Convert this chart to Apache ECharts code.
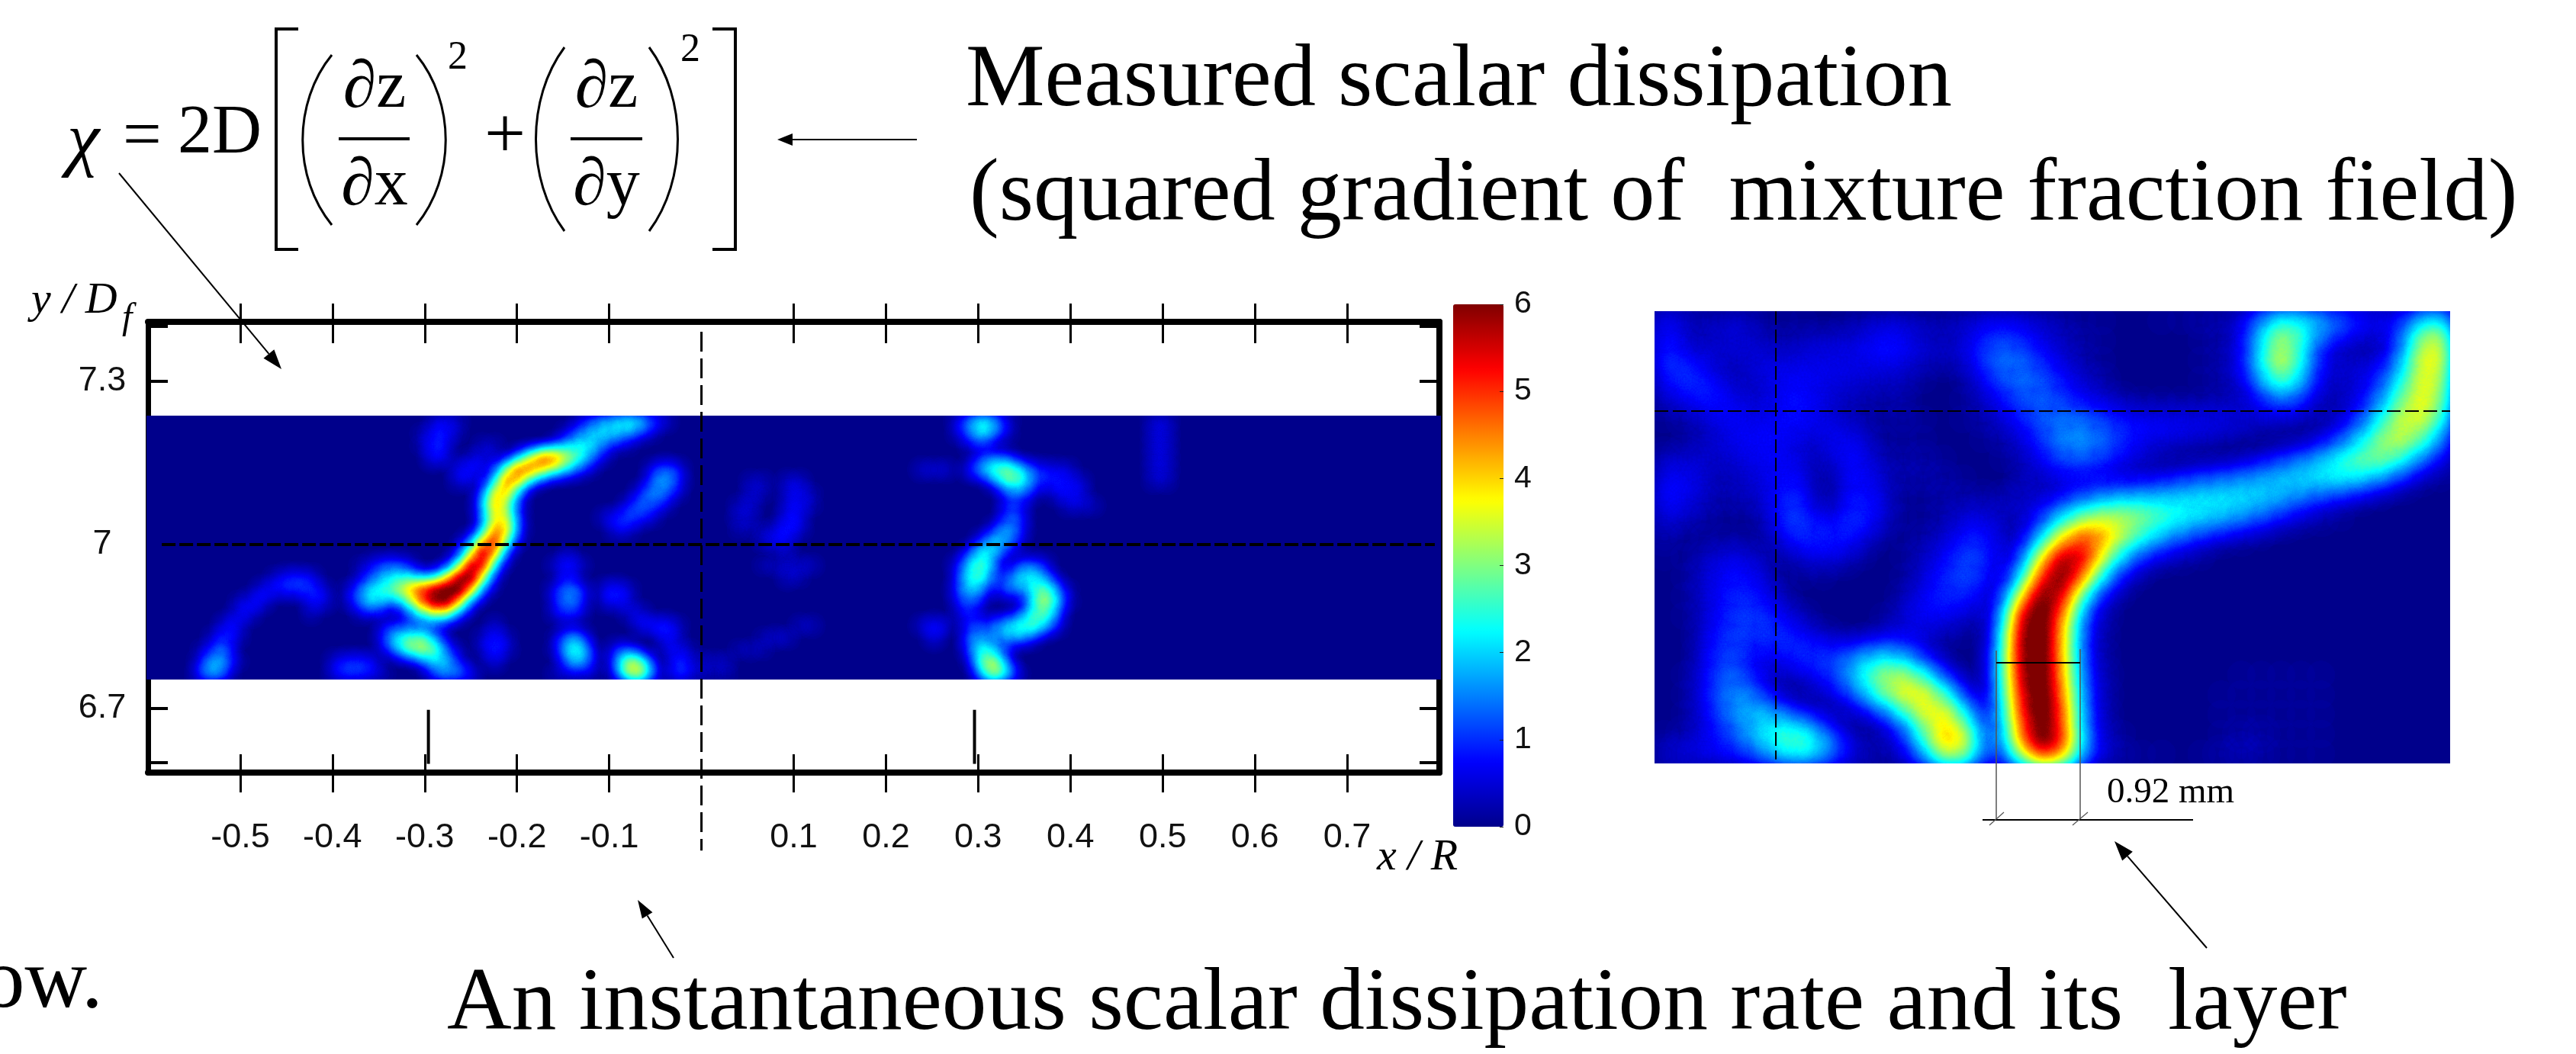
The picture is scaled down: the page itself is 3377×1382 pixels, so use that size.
<!DOCTYPE html>
<html><head><meta charset="utf-8">
<style>html,body{margin:0;background:#fff}#c{width:3377px;height:1382px}</style>
<script src="https://cdn.jsdelivr.net/npm/echarts@6/dist/echarts.min.js"></script>
</head><body><div id="c"></div>
<script>
// --- tick labels / colour scale ---
const xTickValues = [-0.5,-0.4,-0.3,-0.2,-0.1,0.1,0.2,0.3,0.4,0.5,0.6,0.7];
const yLabelValues = [6.7,7,7.3];
const yTickValues = [6.6,6.7,6.8,6.9,7,7.1,7.2,7.3,7.4];
const colorbarMax = 6;
const xRange = [-0.6,0.8], yRange = [6.582,7.408];
const leftFieldY = [6.753,7.236];
const leftCols = 106, leftRows = 22, rightCols = 40, rightRows = 23;
const jetColors = [[0,0,139],[0,0,255],[0,128,255],[0,255,255],[128,255,128],[255,255,0],[255,128,0],[255,0,0],[128,0,0]];
const HEAT_GAIN = 1.0, HEAT_GAMMA = 0.85;

// --- left field: runs of chi: [row, first column, values...] ---
const leftRuns = [
[0,23,.4,.7,.4],[0,35,.5,1,1.5,1.8,2.4,2,1,.5],[0,66,.6,1.5,2.4,1.5,.5],[0,82,.5,.5],
[1,22,.3,.8,.8,.3],[1,34,.6,1.2,1.7,1.9,1.7,1.3,.7,.3],[1,66,.5,1.2,2.2,1.2,.4],[1,82,.5,.5],
[2,22,.3,.9,.6],[2,27,.4,.4],[2,33,.8,1.5,2.1,1.8,1,.5,.3],[2,67,.5,.5],[2,82,.5,.5],
[3,23,.9,.5,0,.4,.6,.4,0,1.2,3,5.2,4.6,3.2,2.2,1.2,.4],[3,68,.8,1,.7],[3,82,.5,.5],
[4,25,.7,.9,.6,.4,3,4.9,4.4,3,2.2,1.4,.8,.3],[4,41,.6,1.4,.7],[4,63,.5,.5,.5],[4,67,.8,2,2.6,3,2,1,.7,.6,.5],[4,82,.5,.5],
[5,25,.5,.5,.2,1.6,4.5,3.2,1,.3],[5,41,1.2,1.6,.9],[5,49,.4,.4,0,.5,.5],[5,69,1,2.4,2.6,1.2,.8,.8,.7,.5],[5,82,.4,.4],
[6,27,.8,3.6,3.6,.9],[6,40,.9,1.4,1.2,.4],[6,49,.5,.3,0,.5,.7,.3],[6,70,.8,1,.6,0,.6,.7,.6],
[7,27,1.2,4.2,2.2,.6],[7,39,.7,1.2,1,.5],[7,48,.4,.5,0,0,.5,.7,.3],[7,70,.8,.8,0,0,0,.5,.5,.4],
[8,27,.8,3.2,3.2,.6],[8,37,.5,.9,1.1,.9,.4],[8,48,.5,.4,0,0,.8,.6],[8,70,1.1,.9],
[9,27,1,4,3.8,.7],[9,38,.7,.5],[9,48,.3,.3,.3,.5,.9,.5],[9,69,.8,1.6,.9],
[10,25,.2,1,3.4,5.4,2,.3],[10,50,.4,.8,.6],[10,68,1,2,1.6,.5],
[11,25,.6,2.4,5.8,3.4,.6],[11,34,.4],[11,52,.3],[11,67,1,2.4,1.4,.4],
[12,17,.3,.7,1.1,1.2,.6],[12,24,.4,1.6,5.4,5,1.4,.2],[12,33,.5,1,.5],[12,50,.3,.4,.4,.5,.4],[12,66,.8,2,2.4,.9,0,1,1.2,.7],
[13,10,.4,.8,.9,.6],[13,17,.4,1,1.5,1.8,2,1.2,1.2,3,5.2,6,2.6,.5],[13,34,.6],[13,52,.5,.3],[13,66,.6,2.2,2.4,.6,1,2,2.2,1.4,.3],
[14,9,.7,.8,.9,.9,1,.5],[14,16,.4,1.2,2,2.2,3,3.8,4.8,5.4,5.6,6,3.6,1,.2],[14,33,.7,1.5,1,0,.6,1,.4],[14,66,1,2,1,.3,1.5,1,1.6,2.8,1.4,.3],
[15,7,.3,.8,.7,0,0,0,.7,.7],[15,16,.4,1.3,2.2,1.4,1,2.2,4,5.4,5.8,3.6,.9,.2],[15,33,.6,1.5,.9,0,.5,.8,.5],[15,66,.6,1.2,.5,0,0,0,1.6,3.4,1.8,.4],
[16,7,.7,.6,0,0,0,0,.4],[16,17,.4,.5,.3,0,1,2,2.6,2.6,1,.2],[16,33,.5,1,.5,0,0,0,.5,.6],[16,66,.4,.9,0,0,0,.7,1.8,2.4,1.2],
[17,6,.8,.6],[17,19,.5,.7,.5,.6,.5,.3,0,0,0,.5],[17,40,.7,.8,1,.4],[17,53,.4,.4],[17,63,.5,.9,.5,0,.9,.8,1.4,2,2.4,2.8,2,.6],
[18,5,.5,.9,.4],[18,19,1,2.2,2.4,2.6,1.4,.3,0,0,.4,.9,.4],[18,33,.3,1.5,1.2],[18,42,.8,.4],[18,50,.3,.5,.4],[18,64,.7,0,0,1.4,1.3,.8,1.6,1.4,.7],
[19,4,.3,.9,1.2],[19,19,.4,1.4,2.8,3.2,2.8,1.2,.3,0,.4,1,.5],[19,33,.4,2,2.4,.5,0,.8,.8],[19,42,.4,.7,.3],[19,48,.3,.4,.3],[19,67,1,2.4,1.4,.3],
[20,4,.6,1.8,1.3,.3],[20,15,.6,.9,.9,.7],[20,22,.6,1.8,1.6,.7,0,0,.6],[20,34,1.2,2,.6,0,1.2,3.4,2.6,.4],[20,43,1,.5,.4,.4,.4],[20,67,.4,2.8,3,.8],
[21,4,1,2,.7],[21,15,.7,1,.9,.7,.3],[21,23,.8,1.6,1.4,.8],[21,33,.4,.4,.4,.4],[21,38,.6,3.4,3.6,1],[21,43,1.1,.6,.3,.3,.3],[21,68,1.8,3.6,2,.3]
];

// --- right field: rows of chi, top to bottom (missing tail = 0) ---
const rightRows_ = [
[.8,.5,.3,.4,.5,.2,.2,.2,.1,.2,.3,.4,.4,.3,.3,.4,.5,.6,.5,.4,.3,.2,.2,.1,.1,.2,.2,.3,.3,.5,1.4,2.4,2.2,1.9,1.4,.9,.7,.8,1.6,2.4],
[.9,.3,.4,.6,.5,.4,.3,.4,.5,.5,.6,.9,.8,.5,.4,.5,.9,1.1,.9,.6,.4,.3,.2,.1,.1,.1,.1,.2,.3,.5,1.6,3.2,2,.8,.5,.3,.3,.8,2.8,3.8],
[1,.9,.5,.4,.5,.6,.5,.6,.6,.6,.6,.7,.6,.4,.4,.4,1,1.3,1.1,.8,.5,.3,.2,.1,.1,.1,.1,.2,.3,.6,1.8,3.8,1.8,.6,.4,.4,.5,1.2,3.2,3.8],
[.7,1,.9,.4,.3,.6,.7,.7,.6,.6,.5,.4,.4,.2,.1,.2,.6,1.1,1.3,1.1,.8,.5,.3,.1,.1,.1,.1,.2,.3,.5,1.4,2.8,1.6,.5,.5,.6,.9,1.8,3.2,3.2],
[.4,.6,.9,.9,.5,.4,.7,.8,.5,.4,.3,.3,.3,.1,.1,.2,.4,.7,1,1.1,.9,.6,.5,.3,.2,.2,.2,.2,.3,.3,.6,1.2,.9,.3,.3,.5,1.1,2.4,3.4,3],
[.2,.3,.4,.6,.7,.6,.8,.8,.6,.4,.3,.2,.3,.2,.1,.2,.3,.5,.9,1.1,1.3,1.2,1,.8,.7,.7,.7,.7,.7,.6,.5,.4,.3,.3,.5,1,1.9,3.2,3.2,2.4],
[.1,.2,.4,.6,.7,.7,.7,.4,.6,.8,.5,.2,.2,.2,.1,.1,.2,.3,.5,.9,1.4,1.5,1.2,.9,.7,.6,.5,.4,.3,.2,.1,.1,.1,.3,.8,1.5,2.6,3.3,2.5,1.3],
[.4,.5,.5,.4,.6,.7,.7,.5,.3,.7,.7,.3,.3,.3,.2,.1,.1,.2,.4,.7,1.1,1.2,1,.7,.4,.2,.1,.1,.1,.2,.4,.7,1.1,1.6,2.2,2.8,3,2.2,1.2,.6],
[.7,.7,.5,.3,.5,.5,.8,.6,.1,.6,.8,.4,.3,.3,.3,.2,.1,.1,.3,.4,.5,.5,.4,.3,.4,.5,.7,.9,1.1,1.3,1.6,1.9,2,2.1,2.2,1.8,1.2,.7,.3,.2],
[.8,.7,.4,.3,.4,.5,.9,.8,.1,.5,.9,.5,.2,.2,.3,.3,.3,.3,.6,.3,.6,.9,1.3,1.5,1.6,1.7,1.9,2,2,2,1.8,1.5,1.2,.8,.5,.3,.2,.1,.1,.1],
[.6,.4,.3,.2,.2,.3,1,1,.4,.9,1,.5,.2,.2,.3,.5,.6,.4,.3,.9,1.8,2.4,3,3.1,2.9,2.5,2.1,1.9,1.7,1.4,1,.7,.4,.3,.2],
[.3,.2,.2,.2,.2,.2,.7,1,.9,.9,.6,.2,.2,.3,.4,.8,.9,.4,.3,1.4,3,4.8,4.2,3,2,1.5,1,.7,.4,.3,.2],
[.2,.2,.4,.6,.6,.3,.2,.5,.6,.5,.2,.1,.2,.4,.7,1,1,.4,.8,3.5,5.6,5.2,3,1.4,.8,.4,.3,.2],
[.1,.2,.5,.7,.8,.5,.2,.2,.2,.1,.1,.1,.2,.5,.8,1.1,.9,.3,1.2,4.6,6,4.2,1.6,.6,.2],
[.1,.2,.5,.8,.9,.7,.3,.1,.1,.1,.1,.1,.3,.7,.9,.9,.6,.2,3.7,6,5.2,1.4,.6,.2],
[.1,.2,.4,.8,1,.9,.7,.3,.1,.1,.1,.2,.5,.8,.7,.5,.3,.8,5.6,6,3.7,1,.4,.1],
[.1,.1,.5,1,.9,1,.9,.7,.4,.2,.2,.4,.6,.4,.3,.2,.1,1.2,5.9,6,3.4,.8,.3,.1],
[.1,.1,.5,1.1,.8,.5,.9,1,1,1,1.5,1.6,1.3,.6,.2,.1,.1,1.6,5.8,6,3.4,.8,.3,.1],
[.1,.2,.6,1.2,1,.4,.3,.5,.8,1.2,2.2,3,3.1,2,.7,.2,.1,1.6,5.6,6,3.6,.9,.4,.1,.1,.1,.1,.1,.1,.2,.2,.2,.2,.2],
[.1,.2,.6,1.3,1.5,.8,.2,.2,.4,.7,1.4,2.6,3.6,3.8,2.4,.7,.1,1.4,5.2,6,4,1,.4,.1,.1,.1,.1,.1,.2,.2,.2,.2,.2,.2],
[.1,.2,.6,1.1,1.6,1.8,1.2,.5,.2,.2,.3,.7,1.6,3.3,3.6,2.2,.4,1.2,4.8,6,4.4,1,.4,.1,.1,.1,.1,.1,.2,.2,.2,.2,.2,.2],
[.2,.3,.5,.9,1.2,2,2.5,2.6,1.4,.5,.2,.3,.8,2,3.8,3.6,.7,1,4.4,6,4.5,1.2,.5,.2,.1,.1,.1,.1,.2,.3,.3,.2,.2,.2],
[.5,.6,.7,.7,.9,1.3,2.1,2.3,1.8,.8,.4,.3,.4,1.4,3.6,3.8,.9,.7,3.4,5.6,4.8,1.3,.5,.3,.2,.2,.1,.2,.3,.4,.3,.2,.2,.2]
];

// --- build heat points through the geo coordinate systems ---
const dxL = (xRange[1]-xRange[0])/leftCols, dyL = (leftFieldY[1]-leftFieldY[0])/leftRows;
const leftData = [];
leftRuns.forEach(run => { for (let i=2;i<run.length;i++) if (run[i]>0)
  leftData.push([xRange[0]+(run[1]+i-2+.5)*dxL, leftFieldY[1]-(run[0]+.5)*dyL, run[i]]); });
const rightData = [];
rightRows_.forEach((row,r) => row.forEach((v,c) => { if (v>0) rightData.push([c+.5, rightRows-r-.5, v]); }));

function rectMap(x0,x1,y0,y1){return {type:'FeatureCollection',features:[{type:'Feature',properties:{name:'field'},
  geometry:{type:'Polygon',coordinates:[[[x0,y0],[x1,y0],[x1,y1],[x0,y1],[x0,y0]]]}}]};}
echarts.registerMap('fieldLeft', rectMap(xRange[0],xRange[1],leftFieldY[0],leftFieldY[1]));
echarts.registerMap('fieldRight', rectMap(0,rightCols,0,rightRows));

function jetAt(t){const p=Math.min(Math.max(t,0),1)*(jetColors.length-1),i=Math.min(Math.floor(p),jetColors.length-2),f=p-i;
  const a=jetColors[i],b=jetColors[i+1];return 'rgb('+[0,1,2].map(k=>Math.round(a[k]+(b[k]-a[k])*f)).join(',')+')';}
// the layer accumulates opacity, so its palette is the jet scale expressed in accumulated opacity
const heatPalette=[];for(let i=0;i<256;i++){const a=Math.min(i/255,.999);heatPalette.push(jetAt(Math.pow(Math.min(-Math.log(1-a)/HEAT_GAIN,1),HEAT_GAMMA)));}
const jetList=jetColors.map(c=>'rgb('+c.join(',')+')');

const serif='"Liberation Serif",serif', sans='"Liberation Sans",Arial,sans-serif';
function txt(text,x,y,size,opt){opt=opt||{};return {type:'text',silent:true,z:20,style:{text,x,y,font:(opt.italic?'italic ':'')+size+'px '+(opt.family||serif),fill:'#000',align:opt.align||'left',verticalAlign:'middle',textAlign:opt.align||'left',textVerticalAlign:'middle'}};}
function seg(x1,y1,x2,y2,w,c){return {type:'line',silent:true,z:20,shape:{x1,y1,x2,y2},style:{stroke:c||'#000',lineWidth:w||2}};}
function arrow(x1,y1,x2,y2,w,hl,hw){const d=Math.hypot(x2-x1,y2-y1),ux=(x2-x1)/d,uy=(y2-y1)/d,bx=x2-ux*hl,by=y2-uy*hl;
  return [seg(x1,y1,bx,by,w),{type:'polygon',silent:true,z:20,shape:{points:[[x2,y2],[bx-uy*hw,by+ux*hw],[bx+uy*hw,by-ux*hw]]},style:{fill:'#000'}}];}
function paren(x0,xm,ytop,ybot){return {type:'bezierCurve',silent:true,z:20,shape:{x1:x0,y1:ytop,x2:x0,y2:ybot,cpx1:xm,cpy1:ytop+(ybot-ytop)*.28,cpx2:xm,cpy2:ytop+(ybot-ytop)*.72},style:{stroke:'#000',lineWidth:3,fill:'none'}};}
function bracket(xo,xi,yt,yb){return [{type:'polyline',silent:true,z:20,shape:{points:[[xi,yt],[xo,yt],[xo,yb],[xi,yb]]},style:{stroke:'#000',lineWidth:4,fill:'none'}}];}

const graphicEls=[].concat(
 [txt('Measured scalar dissipation',1266,107,116.4),
  txt('(squared gradient of  mixture fraction field)',1271,257,116.4),
  txt('An instantaneous scalar dissipation rate and its  layer',586,1318,117.4),
  txt('ow.',-24,1290,113),
  txt('χ',88,188,96,{italic:true}),
  txt('=',161,182,90),
  txt('2D',233,176,90),
  txt('∂z',491,117,88,{align:'center'}),
  txt('∂x',491,245,88,{align:'center'}),
  txt('∂z',795,117,88,{align:'center'}),
  txt('∂y',795,245,88,{align:'center'}),
  txt('+',662,181,96,{align:'center'}),
  txt('2',600,76,52,{align:'center'}),
  txt('2',905,66,52,{align:'center'}),
  seg(444,182,537,182,4),seg(748,182,842,182,4),
  paren(435,384,72,295),paren(546,597,72,295),paren(740,690,62,303),paren(851,901,62,303)],
 bracket(362,391,38,327),bracket(964,934,38,327),
 arrow(1202,183,1019,183,2,20,8),
 arrow(156,227,369,484,2,26,9),
 arrow(883,1256,836,1180,2,24,8),
 arrow(2893,1243,2772,1103,2,26,9),
 [txt('y / D',41,395,58,{italic:true}),
  txt('f',160,418,48,{italic:true}),
  txt('x / R',1805,1125,58,{italic:true}),
  txt('0.92 mm',2762,1040,47),
  seg(2617,853,2617,1075,1.5,'#555'),seg(2727,851,2727,1075,1.5,'#555'),
  seg(2617,869,2727,869,2),seg(2599,1075,2875,1075,2),
  seg(2608,1082,2627,1065,1.2,'#555'),seg(2717,1082,2737,1065,1.2,'#555')]
);

const tickStyle={color:'#000',width:3};
const sansLabel={fontFamily:sans,fontSize:45,color:'#111'};
function hiddenAxis(o){return Object.assign({show:false},o);}
const option={
 animation:false,backgroundColor:'#fff',
 geo:[
  {map:'fieldLeft',left:192,top:545,width:1697,height:346,silent:true,roam:false,z:1,aspectScale:1,
   itemStyle:{areaColor:'#00008b',borderWidth:0},emphasis:{disabled:true},label:{show:false}},
  {map:'fieldRight',left:2169,top:408,width:1043,height:593,silent:true,roam:false,z:1,aspectScale:1,
   itemStyle:{areaColor:'#00008b',borderWidth:0},emphasis:{disabled:true},label:{show:false}}
 ],
 grid:[
  {left:194,top:422,width:1693,height:591},
  {left:194,top:422,width:1693,height:591},
  {left:1905,top:399,width:66,height:685},
  {left:2169,top:408,width:1043,height:593}
 ],
 xAxis:[
  {gridIndex:0,type:'value',position:'bottom',min:xRange[0],max:xRange[1],splitLine:{show:false},axisLine:{onZero:false,lineStyle:{color:'#000',width:8}},
   axisTick:{length:26,lineStyle:tickStyle,customValues:xTickValues},axisLabel:Object.assign({customValues:xTickValues,margin:63,formatter:v=>String(v)},sansLabel)},
  {gridIndex:0,type:'value',position:'top',min:xRange[0],max:xRange[1],splitLine:{show:false},axisLine:{onZero:false,lineStyle:{color:'#000',width:8}},
   axisTick:{length:24,lineStyle:tickStyle,customValues:xTickValues},axisLabel:{show:false}},
  {gridIndex:1,type:'value',position:'bottom',min:xRange[0],max:xRange[1],splitLine:{show:false},axisLine:{show:false,onZero:false},
   axisTick:{inside:true,length:24,lineStyle:tickStyle,customValues:xTickValues},axisLabel:{show:false}},
  {gridIndex:1,type:'value',position:'top',min:xRange[0],max:xRange[1],splitLine:{show:false},axisLine:{show:false,onZero:false},
   axisTick:{inside:true,length:28,lineStyle:tickStyle,customValues:xTickValues},axisLabel:{show:false}},
  hiddenAxis({gridIndex:2,type:'value',min:0,max:1}),
  hiddenAxis({gridIndex:3,type:'value',min:0,max:rightCols})
 ],
 yAxis:[
  {gridIndex:0,type:'value',position:'left',min:yRange[0],max:yRange[1],splitLine:{show:false},axisLine:{onZero:false,lineStyle:{color:'#000',width:7}},
   axisTick:{inside:true,length:26,lineStyle:{color:'#000',width:4},customValues:yTickValues},
   axisLabel:Object.assign({customValues:yLabelValues,align:'center',margin:60,formatter:v=>String(v)},sansLabel)},
  {gridIndex:0,type:'value',position:'right',min:yRange[0],max:yRange[1],splitLine:{show:false},axisLine:{onZero:false,lineStyle:{color:'#000',width:8}},
   axisTick:{inside:true,length:26,lineStyle:{color:'#000',width:4},customValues:yTickValues},axisLabel:{show:false}},
  {gridIndex:1,type:'value',min:yRange[0],max:yRange[1],show:false},
  {gridIndex:2,type:'value',position:'right',min:0,max:colorbarMax,interval:1,splitLine:{show:false},axisLine:{show:false,onZero:false},z:6,
   axisTick:{inside:true,length:5,lineStyle:{color:'#222',width:1}},axisLabel:{fontFamily:sans,fontSize:41,color:'#111',margin:14}},
  hiddenAxis({gridIndex:3,type:'value',min:0,max:rightRows})
 ],
 visualMap:[
  {type:'continuous',seriesIndex:[0,1],show:false,min:0,max:colorbarMax,dimension:2,inRange:{color:heatPalette}},
  {type:'continuous',seriesIndex:2,show:true,calculable:false,hoverLink:false,min:0,max:colorbarMax,left:1905,top:399,itemWidth:66,itemHeight:685,padding:0,inRange:{color:jetList},z:5}
 ],
 series:[
  {name:'chi left',type:'heatmap',coordinateSystem:'geo',geoIndex:0,data:leftData,pointSize:10,blurSize:22,minOpacity:1,maxOpacity:1,z:2,silent:true},
  {name:'chi right',type:'heatmap',coordinateSystem:'geo',geoIndex:1,data:rightData,pointSize:16,blurSize:38,minOpacity:1,maxOpacity:1,z:2,silent:true},
  {name:'colour bar',type:'scatter',xAxisIndex:4,yAxisIndex:3,data:[]},
  {name:'y centre',type:'line',xAxisIndex:0,yAxisIndex:0,data:[[-0.585,7],[0.795,7]],symbol:'none',clip:false,z:10,silent:true,lineStyle:{color:'#000',width:4,type:[18,5]}},
  {name:'x centre',type:'line',xAxisIndex:0,yAxisIndex:0,data:[[0,7.39],[0,6.439]],symbol:'none',clip:false,z:10,silent:true,lineStyle:{color:'#000',width:3,type:[26,9]}},
  {name:'mark a',type:'line',xAxisIndex:0,yAxisIndex:0,data:[[-0.296,6.697],[-0.296,6.598]],symbol:'none',z:10,silent:true,lineStyle:{color:'#000',width:4}},
  {name:'mark b',type:'line',xAxisIndex:0,yAxisIndex:0,data:[[0.296,6.697],[0.296,6.598]],symbol:'none',z:10,silent:true,lineStyle:{color:'#000',width:4}},
  {name:'right h',type:'line',xAxisIndex:5,yAxisIndex:4,data:[[0,17.92],[rightCols,17.92]],symbol:'none',z:10,silent:true,lineStyle:{color:'#000',width:2,type:[18,6]}},
  {name:'right v',type:'line',xAxisIndex:5,yAxisIndex:4,data:[[6.1,rightRows],[6.1,.2]],symbol:'none',z:10,silent:true,lineStyle:{color:'#000',width:2,type:[18,6]}}
 ],
 graphic:{elements:graphicEls}
};
const chart=echarts.init(document.getElementById('c'),null,{renderer:'canvas'});
chart.setOption(option);
</script></body></html>
